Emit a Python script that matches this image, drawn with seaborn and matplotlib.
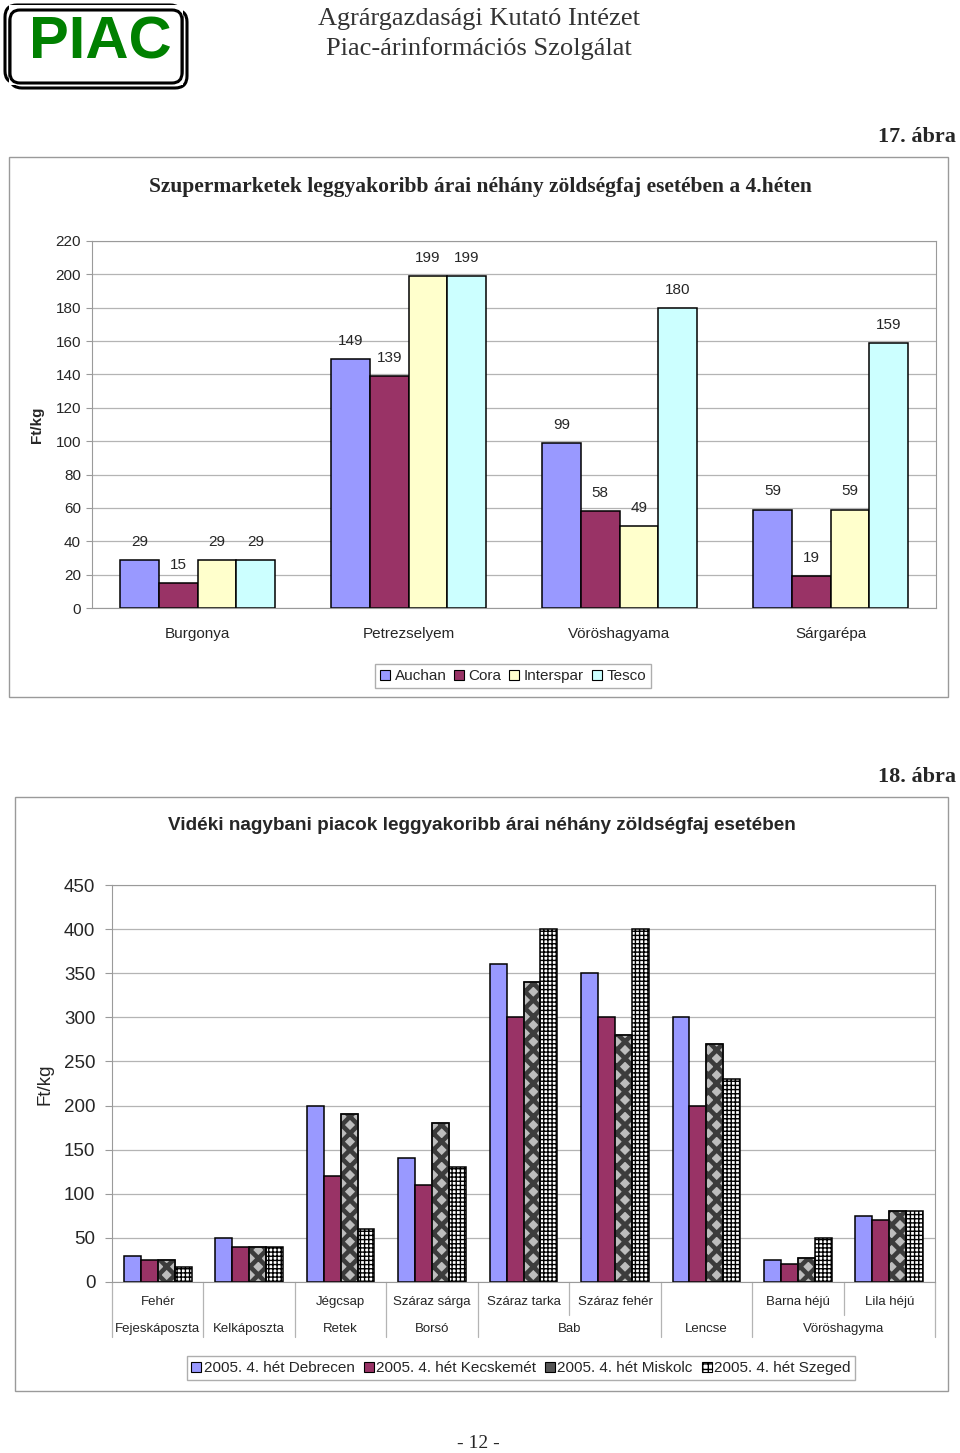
import numpy as np
import pandas as pd
import matplotlib
matplotlib.use('Agg')
import matplotlib.pyplot as plt
import matplotlib.patches as mpatches
from matplotlib.transforms import IdentityTransform
import seaborn as sns

W, H = 960, 1453

# 17. ábra - supermarket prices
veg1 = ['Burgonya', 'Petrezselyem', 'Vöröshagyama', 'Sárgarépa']
stores = ['Auchan', 'Cora', 'Interspar', 'Tesco']
auchan = [29, 149, 99, 59]
cora = [15, 139, 58, 19]
interspar = [29, 199, 49, 59]
tesco = [29, 199, 180, 159]
colors1 = ['#9999FF', '#993366', '#FFFFCC', '#CCFFFF']

# 18. ábra - regional wholesale markets
sub_labels = ['Fehér', '', 'Jégcsap', 'Száraz sárga', 'Száraz tarka',
              'Száraz fehér', '', 'Barna héjú', 'Lila héjú']
main_labels = ['Fejeskáposzta', 'Kelkáposzta', 'Retek', 'Borsó', 'Bab',
               'Lencse', 'Vöröshagyma']
main_span = [1, 1, 1, 1, 2, 1, 2]
markets = ['2005. 4. hét Debrecen', '2005. 4. hét Kecskemét',
           '2005. 4. hét Miskolc', '2005. 4. hét Szeged']
debrecen = [30, 50, 200, 140, 360, 350, 300, 25, 75]
kecskemet = [25, 40, 120, 110, 300, 300, 200, 20, 70]
miskolc = [25, 40, 190, 180, 340, 280, 270, 27, 80]
szeged = [17, 40, 60, 130, 400, 400, 230, 50, 80]

sns.set_style('white')
plt.rcParams['font.family'] = ['Liberation Sans', 'DejaVu Sans']
SERIF = ['Liberation Serif', 'DejaVu Serif']
GRID = '#b4b4b4'
SPINE = '#9a9a9a'


def box(x0, y0, x1, y1):
    # pixel box (top-left origin) -> figure fraction rect
    return [x0 / W, 1 - y1 / H, (x1 - x0) / W, (y1 - y0) / H]


def pxrect(x0, y0, x1, y1, **kw):
    return mpatches.Rectangle((x0, H - y1), x1 - x0, y1 - y0,
                              transform=IdentityTransform(), **kw)


fig = plt.figure(figsize=(W / 100, H / 100), dpi=100)
fig.patch.set_facecolor('white')

# ---------- header ----------
for dx, dy in [(0, 0), (5, 5)]:
    fig.add_artist(mpatches.FancyBboxPatch(
        (5 + dx, H - 83 - dy), 177, 78, boxstyle='round,pad=0,rounding_size=12',
        transform=IdentityTransform(), fill=False, edgecolor='black', lw=2.2))
fig.add_artist(pxrect(9, 5, 183, 85, facecolor='white', edgecolor='none', lw=0))
fig.add_artist(mpatches.FancyBboxPatch(
    (10, H - 83), 172, 73, boxstyle='round,pad=0,rounding_size=10',
    transform=IdentityTransform(), fill=False, edgecolor='black', lw=2.2))
fig.text(100 / W, 1 - 43 / H, 'PIAC', fontsize=43, fontweight='bold',
         color='#008000', ha='center', va='center')
fig.text(479 / W, 1 - 19 / H, 'Agrárgazdasági Kutató Intézet', family=SERIF,
         fontsize=19, color='#333333', ha='center', va='center')
fig.text(479 / W, 1 - 49 / H, 'Piac-árinformációs Szolgálat', family=SERIF,
         fontsize=19, color='#333333', ha='center', va='center')

fig.text(956 / W, 1 - 137 / H, '17. ábra', family=SERIF, fontsize=16,
         fontweight='bold', ha='right', va='center')
fig.text(956 / W, 1 - 777 / H, '18. ábra', family=SERIF, fontsize=16,
         fontweight='bold', ha='right', va='center')
fig.text(478 / W, 1 - 1443 / H, '- 12 -', family=SERIF, fontsize=14,
         ha='center', va='center')

# frames
fig.add_artist(pxrect(9, 157, 948, 697, fill=False, edgecolor=SPINE, lw=1))
fig.add_artist(pxrect(15, 797, 948, 1391, fill=False, edgecolor=SPINE, lw=1))

# ---------- chart 1 ----------
df1 = pd.DataFrame({'veg': veg1 * 4,
                    'store': np.repeat(stores, 4),
                    'price': auchan + cora + interspar + tesco})
ax1 = fig.add_axes(box(92, 241, 936, 608))
sns.barplot(data=df1, x='veg', y='price', hue='store', order=veg1,
            hue_order=stores, palette=colors1, saturation=1, width=0.73,
            edgecolor='black', linewidth=1.1, legend=False, ax=ax1)
for c in ax1.containers:
    ax1.bar_label(c, padding=8, fontsize=11)
ax1.set_ylim(0, 220)
ax1.set_xlim(-0.5, 3.5)
ax1.set_yticks(range(0, 221, 20))
ax1.set_xticks(np.arange(-0.5, 4, 1), minor=True)
ax1.tick_params(axis='x', which='major', length=0, pad=14, labelsize=11)
ax1.tick_params(axis='x', which='minor', length=4, color=SPINE, direction='out')
ax1.tick_params(axis='y', length=4, color=SPINE, labelsize=11, pad=4, left=True)
ax1.yaxis.grid(True, color=GRID, lw=0.9)
ax1.set_axisbelow(True)
for s in ax1.spines.values():
    s.set_color(SPINE)
ax1.set_xlabel('')
ax1.set_ylabel('')
fig.text(37 / W, 1 - 425 / H, 'Ft/kg', fontsize=11, fontweight='bold',
         rotation=90, ha='center', va='center')
fig.text(480 / W, 1 - 187 / H,
         'Szupermarketek leggyakoribb árai néhány zöldségfaj esetében a 4.héten',
         family=SERIF, fontsize=15.5, fontweight='bold', ha='center', va='center')
h1 = [mpatches.Patch(facecolor=c, edgecolor='black', lw=0.8) for c in colors1]
fig.legend(h1, stores, loc='center', bbox_to_anchor=(513 / W, 1 - 676 / H),
           ncol=4, fontsize=11, frameon=True, fancybox=False, edgecolor=SPINE,
           handlelength=0.65, handleheight=0.65, handletextpad=0.3,
           columnspacing=0.5, borderpad=0.35, borderaxespad=0)

# ---------- chart 2 ----------
keys = [f'{i}' for i in range(len(sub_labels))]
df2 = pd.DataFrame({'veg': keys * 4,
                    'market': np.repeat(markets, len(keys)),
                    'price': debrecen + kecskemet + miskolc + szeged})
colors2 = ['#9999FF', '#993366', '#BDBDBD', '#FFFFFF']
ax2 = fig.add_axes(box(112, 885, 935, 1282))
sns.barplot(data=df2, x='veg', y='price', hue='market', order=keys,
            hue_order=markets, palette=colors2, saturation=1, width=0.74,
            edgecolor='black', linewidth=1.1, legend=False, ax=ax2)
for bar in ax2.containers[2]:
    bar.set_hatch('xx')
    bar.set_edgecolor('#3c3c3c')
    if hasattr(bar, 'set_hatch_linewidth'):
        bar.set_hatch_linewidth(3.3)
    ax2.add_patch(mpatches.Rectangle(bar.get_xy(), bar.get_width(),
                                     bar.get_height(), fill=False,
                                     edgecolor='black', lw=1.1, zorder=3))
for bar in ax2.containers[3]:
    bar.set_hatch('++++')
    bar.set_edgecolor('black')
ax2.set_ylim(0, 450)
ax2.set_xlim(-0.5, len(keys) - 0.5)
ax2.set_yticks(range(0, 451, 50))
ax2.set_xticks([])
ax2.tick_params(axis='y', length=5, color=SPINE, labelsize=13.5, pad=7, left=True)
ax2.yaxis.grid(True, color=GRID, lw=0.9)
ax2.set_axisbelow(True)
for s in ax2.spines.values():
    s.set_color(SPINE)
ax2.set_xlabel('')
ax2.set_ylabel('')

tr = ax2.get_xaxis_transform()
for i, lab in enumerate(sub_labels):
    ax2.text(i, -0.050, lab, transform=tr, ha='center', va='center', fontsize=9.5)
pos = -0.5
for lab, span in zip(main_labels, main_span):
    ax2.text(pos + span / 2, -0.118, lab, transform=tr, ha='center',
             va='center', fontsize=9.5)
    for k in range(1, span):
        ax2.plot([pos + k, pos + k], [0, -0.083], transform=tr,
                 color=GRID, lw=0.9, clip_on=False)
    ax2.plot([pos, pos], [0, -0.139], transform=tr, color=GRID, lw=0.9,
             clip_on=False)
    pos += span
ax2.plot([pos, pos], [0, -0.139], transform=tr, color=GRID, lw=0.9,
         clip_on=False)

fig.text(45 / W, 1 - 1084 / H, 'Ft/kg', fontsize=13.5, rotation=90,
         ha='center', va='center')
fig.text(482 / W, 1 - 826 / H,
         'Vidéki nagybani piacok leggyakoribb árai néhány zöldségfaj esetében',
         fontsize=13.6, fontweight='bold', ha='center', va='center')
h2 = [mpatches.Patch(facecolor='#9999FF', edgecolor='black', lw=0.8),
      mpatches.Patch(facecolor='#993366', edgecolor='black', lw=0.8),
      mpatches.Patch(facecolor='#555555', edgecolor='black', lw=0.8),
      mpatches.Patch(facecolor='white', edgecolor='black', lw=0.8, hatch='+++')]
fig.legend(h2, markets, loc='center', bbox_to_anchor=(521 / W, 1 - 1368 / H),
           ncol=4, fontsize=11, frameon=True, fancybox=False, edgecolor=SPINE,
           handlelength=0.65, handleheight=0.65, handletextpad=0.15,
           columnspacing=0.6, borderpad=0.3, borderaxespad=0)

fig.savefig('out.png', dpi=100, facecolor='white')
